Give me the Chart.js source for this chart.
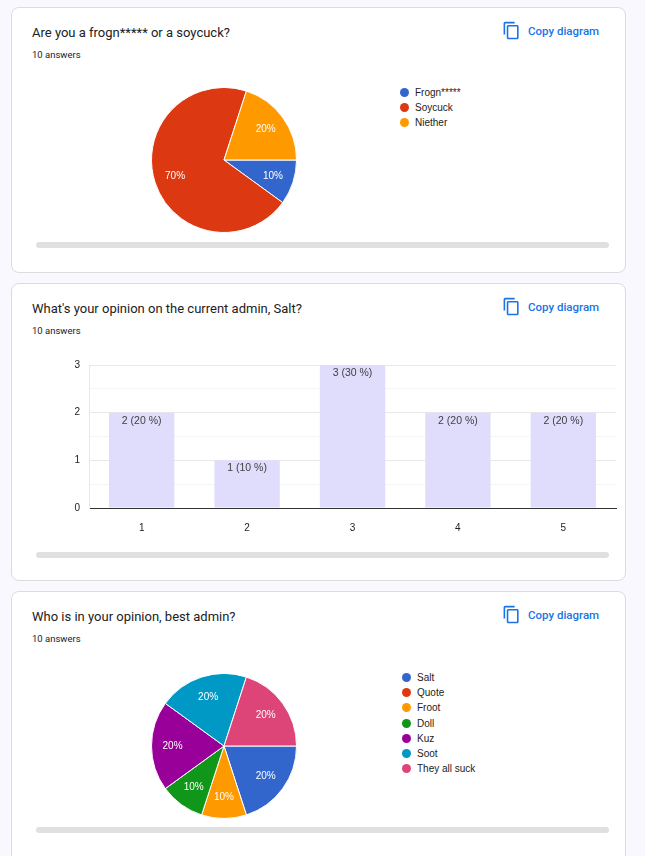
<!DOCTYPE html>
<html>
<head>
<meta charset="utf-8">
<script src="https://cdn.jsdelivr.net/npm/chart.js@4.4.1/dist/chart.umd.min.js"></script>
<style>
  html, body { margin: 0; padding: 0; }
  body { width: 645px; height: 856px; overflow: hidden; background: #f8f8fe; position: relative; font-family: Roboto, Arial, sans-serif; }
  .card { position: absolute; left: 11px; width: 613px; background: #fff; border: 1px solid #dadce0; border-radius: 8px; }
  .title { position: absolute; left: 20px; font-size: 13px; color: #202124; }
  .count { position: absolute; left: 20px; font-size: 9.5px; color: #202124; }
  .copy { position: absolute; left: 490px; color: #1a73e8; font-size: 11.5px; font-weight: 500; display: flex; align-items: center; }
  .copy svg { width: 19px; height: 19px; margin-right: 7px; fill: #1a73e8; }
  .scroll { position: absolute; left: 24px; width: 573px; height: 6px; border-radius: 3px; background: #e0e0e0; }
  canvas { position: absolute; }
  .legend { position: absolute; font-family: Arial, "Liberation Sans", sans-serif; font-size: 10px; color: #222; }
  .legend div { height: 15.2px; line-height: 15.2px; display: flex; align-items: center; }
  .legend span { display: inline-block; width: 9px; height: 9px; border-radius: 50%; margin-right: 6px; }
</style>
</head>
<body>

<div class="card" style="top:7px;height:264px;">
  <div class="title" style="top:17px;" id="t1"></div>
  <div class="count" style="top:41px;">10 answers</div>
  <div class="copy" style="top:13px;"><svg viewBox="0 0 24 24"><path d="M16 1H4c-1.1 0-2 .9-2 2v14h2V3h12V1zm3 4H8c-1.1 0-2 .9-2 2v14c0 1.1.9 2 2 2h11c1.1 0 2-.9 2-2V7c0-1.1-.9-2-2-2zm0 16H8V7h11v14z"/></svg>Copy diagram</div>
  <div class="scroll" style="top:234px;"></div>
</div>

<div class="card" style="top:283px;height:296px;">
  <div class="title" style="top:17px;">What's your opinion on the current admin, Salt?</div>
  <div class="count" style="top:41px;">10 answers</div>
  <div class="copy" style="top:13px;"><svg viewBox="0 0 24 24"><path d="M16 1H4c-1.1 0-2 .9-2 2v14h2V3h12V1zm3 4H8c-1.1 0-2 .9-2 2v14c0 1.1.9 2 2 2h11c1.1 0 2-.9 2-2V7c0-1.1-.9-2-2-2zm0 16H8V7h11v14z"/></svg>Copy diagram</div>
  <div class="scroll" style="top:268px;"></div>
</div>

<div class="card" style="top:591px;height:290px;">
  <div class="title" style="top:17px;">Who is in your opinion, best admin?</div>
  <div class="count" style="top:41px;">10 answers</div>
  <div class="copy" style="top:13px;"><svg viewBox="0 0 24 24"><path d="M16 1H4c-1.1 0-2 .9-2 2v14h2V3h12V1zm3 4H8c-1.1 0-2 .9-2 2v14c0 1.1.9 2 2 2h11c1.1 0 2-.9 2-2V7c0-1.1-.9-2-2-2zm0 16H8V7h11v14z"/></svg>Copy diagram</div>
  <div class="scroll" style="top:235px;"></div>
</div>

<canvas id="pie1" width="146" height="146" style="left:151px;top:87px;"></canvas>
<div class="legend" id="leg1" style="left:400px;top:85px;"></div>

<canvas id="bar" width="585" height="185" style="left:40px;top:350px;"></canvas>

<canvas id="pie2" width="146" height="146" style="left:151px;top:673px;"></canvas>
<div class="legend" id="leg2" style="left:402px;top:670px;"></div>

<script>
// question 1 (slur in the original title/label masked)
var q1Title = "Are you a frogn***** or a soycuck?";
var q1Labels = ["Frogn*****", "Soycuck", "Niether"];
var q1Values = [1, 7, 2];
var q1Colors = ["#3366cc", "#dc3912", "#ff9900"];

// question 2
var q2Labels = ["1", "2", "3", "4", "5"];
var q2Values = [2, 1, 3, 2, 2];
var q2Ticks = [0, 1, 2, 3];

// question 3
var q3Labels = ["Salt", "Quote", "Froot", "Doll", "Kuz", "Soot", "They all suck"];
var q3Values = [2, 0, 1, 1, 2, 2, 2];
var q3Colors = ["#3366cc", "#dc3912", "#ff9900", "#109618", "#990099", "#0099c6", "#dd4477"];

document.getElementById('t1').textContent = q1Title;

function buildLegend(id, labels, colors) {
    var el = document.getElementById(id);
    labels.forEach(function (l, i) {
        var row = document.createElement('div');
        var dot = document.createElement('span');
        dot.style.background = colors[i];
        row.appendChild(dot);
        row.appendChild(document.createTextNode(l));
        el.appendChild(row);
    });
}
buildLegend('leg1', q1Labels, q1Colors);
buildLegend('leg2', q3Labels, q3Colors);

// percent labels inside slices
var slicePct = {
    id: 'slicePct',
    afterDatasetsDraw: function (chart) {
        var ctx = chart.ctx;
        var data = chart.data.datasets[0].data;
        var total = data.reduce(function (a, b) { return a + b; }, 0);
        ctx.save();
        ctx.font = '10px Arial, "Liberation Sans", sans-serif';
        ctx.fillStyle = '#fff';
        ctx.textAlign = 'center';
        ctx.textBaseline = 'middle';
        chart.getDatasetMeta(0).data.forEach(function (arc, i) {
            if (!data[i]) return;
            var mid = (arc.startAngle + arc.endAngle) / 2;
            var r = arc.outerRadius * 0.71;
            ctx.fillText(Math.round(data[i] / total * 100) + '%', arc.x + Math.cos(mid) * r, arc.y + Math.sin(mid) * r);
        });
        ctx.restore();
    }
};

function pieChart(id, labels, values, colors) {
    return new Chart(document.getElementById(id).getContext('2d'), {
        type: 'pie',
        data: {
            labels: labels,
            datasets: [{
                data: values,
                backgroundColor: colors,
                borderColor: '#fff',
                borderWidth: 1
            }]
        },
        options: {
            responsive: false,
            animation: false,
            rotation: 90,
            plugins: { legend: { display: false }, tooltip: { enabled: false } }
        },
        plugins: [slicePct]
    });
}
pieChart('pie1', q1Labels, q1Values, q1Colors);
pieChart('pie2', q3Labels, q3Values, q3Colors);

// count (percent) labels at the top of each bar
var barLabels = {
    id: 'barLabels',
    afterDatasetsDraw: function (chart) {
        var ctx = chart.ctx;
        var data = chart.data.datasets[0].data;
        var total = data.reduce(function (a, b) { return a + b; }, 0);
        ctx.save();
        ctx.font = '10.5px Arial, "Liberation Sans", sans-serif';
        ctx.fillStyle = '#404040';
        ctx.textAlign = 'center';
        ctx.textBaseline = 'middle';
        chart.getDatasetMeta(0).data.forEach(function (bar, i) {
            ctx.fillText(data[i] + ' (' + Math.round(data[i] / total * 100) + ' %)', bar.x, bar.y + 8);
        });
        ctx.restore();
    }
};

new Chart(document.getElementById('bar').getContext('2d'), {
    type: 'bar',
    data: {
        labels: q2Labels,
        datasets: [{
            data: q2Values,
            backgroundColor: '#e0ddfc',
            categoryPercentage: 1,
            barPercentage: 0.62
        }]
    },
    options: {
        responsive: false,
        animation: false,
        layout: { padding: { top: 6, right: 9, left: 0, bottom: 0 } },
        plugins: { legend: { display: false }, tooltip: { enabled: false } },
        scales: {
            x: {
                afterFit: function (s) { s.height = 27; },
                grid: { display: false },
                border: { color: '#333' },
                ticks: { padding: 6, color: '#222', font: { family: 'Arial, "Liberation Sans"', size: 10 } }
            },
            y: {
                min: q2Ticks[0],
                max: q2Ticks[q2Ticks.length - 1],
                afterFit: function (s) { s.width = 49; },
                border: { color: '#e8e8e8' },
                grid: {
                    drawTicks: false,
                    color: function (c) { return c.tick.value % 1 === 0 ? '#e8e8e8' : '#f4f4f4'; }
                },
                ticks: {
                    stepSize: 0.5,
                    padding: 9,
                    color: '#222',
                    font: { family: 'Arial, "Liberation Sans"', size: 10 },
                    callback: function (v) { return q2Ticks.indexOf(v) >= 0 ? v : ''; }
                }
            }
        }
    },
    plugins: [barLabels]
});
</script>
</body>
</html>
